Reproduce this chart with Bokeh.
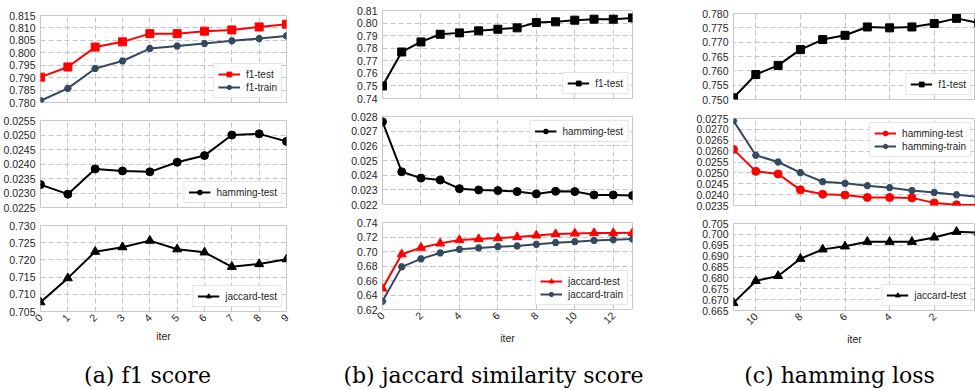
import math
from bokeh.plotting import figure
from bokeh.layouts import row, column
from bokeh.models import Range1d, FixedTicker, PrintfTickFormatter
from bokeh.embed import file_html
from bokeh.resources import INLINE
from bokeh.core.properties import value

# ---------------- data ----------------
iters_a = [0, 1, 2, 3, 4, 5, 6, 7, 8, 9]
f1_test_a = [0.7902, 0.7943, 0.8023, 0.8044, 0.8077, 0.8077, 0.8087, 0.8092, 0.8104, 0.8115]
f1_train_a = [0.7807, 0.7857, 0.7937, 0.7967, 0.8017, 0.8027, 0.8037, 0.8048, 0.8057, 0.8068]
ham_test_a = [0.02329, 0.02296, 0.02383, 0.02376, 0.02373, 0.02406, 0.02429, 0.02500, 0.02504, 0.02478]
jac_test_a = [0.7077, 0.7147, 0.7224, 0.7237, 0.7256, 0.7231, 0.7222, 0.7180, 0.7188, 0.7202]

iters_b = [0, 1, 2, 3, 4, 5, 6, 7, 8, 9, 10, 11, 12, 13]
f1_test_b = [0.7500, 0.7770, 0.7850, 0.7911, 0.7922, 0.7938, 0.7951, 0.7962, 0.8004, 0.8010, 0.8023, 0.8031, 0.8031, 0.8041]
ham_test_b = [0.02764, 0.02423, 0.02380, 0.02367, 0.02308, 0.02299, 0.02295, 0.02288, 0.02272, 0.02290, 0.02288, 0.02265, 0.02265, 0.02261]
jac_test_b = [0.6490, 0.6962, 0.7053, 0.7112, 0.7158, 0.7172, 0.7185, 0.7199, 0.7222, 0.7240, 0.7249, 0.7254, 0.7254, 0.7258]
jac_train_b = [0.6314, 0.6788, 0.6898, 0.6980, 0.7030, 0.7049, 0.7067, 0.7076, 0.7099, 0.7122, 0.7135, 0.7153, 0.7163, 0.7172]

iters_c = [11, 10, 9, 8, 7, 6, 5, 4, 3, 2, 1, 0]
f1_test_c = [0.7506, 0.7587, 0.7619, 0.7674, 0.7709, 0.7724, 0.7753, 0.7750, 0.7753, 0.7765, 0.7783, 0.7767]
ham_test_c = [0.02608, 0.02507, 0.02495, 0.02422, 0.02402, 0.02398, 0.02387, 0.02387, 0.02385, 0.02362, 0.02353, 0.02352]
ham_train_c = [0.02739, 0.02581, 0.02550, 0.02501, 0.02459, 0.02452, 0.02441, 0.02432, 0.02419, 0.02410, 0.02399, 0.02390]
jac_test_c = [0.6685, 0.6786, 0.6809, 0.6888, 0.6931, 0.6945, 0.6966, 0.6966, 0.6966, 0.6986, 0.7012, 0.7008]

# tick labels
yt_a1 = [0.780, 0.785, 0.790, 0.795, 0.800, 0.805, 0.810, 0.815]
yt_a2 = [0.0225, 0.0230, 0.0235, 0.0240, 0.0245, 0.0250, 0.0255]
yt_a3 = [0.705, 0.710, 0.715, 0.720, 0.725, 0.730]
yt_b1 = [0.74, 0.75, 0.76, 0.77, 0.78, 0.79, 0.80, 0.81]
yt_b2 = [0.022, 0.023, 0.024, 0.025, 0.026, 0.027, 0.028]
yt_b3 = [0.62, 0.64, 0.66, 0.68, 0.70, 0.72, 0.74]
yt_c1 = [0.750, 0.755, 0.760, 0.765, 0.770, 0.775, 0.780]
yt_c2 = [0.0235, 0.0240, 0.0245, 0.0250, 0.0255, 0.0260, 0.0265, 0.0270, 0.0275]
yt_c3 = [0.665, 0.670, 0.675, 0.680, 0.685, 0.690, 0.695, 0.700, 0.705]
xt_a = [0, 1, 2, 3, 4, 5, 6, 7, 8, 9]
xt_b = [0, 2, 4, 6, 8, 10, 12]
xt_c = [10, 8, 6, 4, 2, 0]
x_label = "iter"
captions = ["(a) f1 score", "(b) jaccard similarity score", "(c) hamming loss"]

# ---------------- style ----------------
RED = "#ff0000"
NAVY = "#34495e"
BLACK = "#000000"
FONT = "Liberation Sans"
TXT = "#262626"


def panel(x, series, xr, yticks, yfmt, xticks, loc, w, h, borders, bottom=False):
    l, r, t, b = borders
    p = figure(width=w, height=h, x_range=Range1d(*xr),
               y_range=Range1d(yticks[0], yticks[-1]),
               toolbar_location=None, output_backend="svg", title=None,
               x_axis_location="below" if bottom else None,
               min_border_left=l, min_border_right=r,
               min_border_top=t, min_border_bottom=b)
    p.background_fill_color = "white"
    p.border_fill_color = "white"
    p.outline_line_color = "#c8c8c8"
    p.outline_line_width = 1
    p.xgrid.ticker = FixedTicker(ticks=xticks)
    p.ygrid.ticker = FixedTicker(ticks=yticks)
    for g in (p.xgrid, p.ygrid):
        g.grid_line_color = "#c4c4c4"
        g.grid_line_dash = "5 3"
        g.grid_line_width = 1
    ya = p.yaxis[0]
    ya.ticker = FixedTicker(ticks=yticks)
    ya.formatter = PrintfTickFormatter(format=yfmt)
    ya.major_tick_out = 0
    ya.major_tick_in = 0
    ya.minor_tick_out = 0
    ya.minor_tick_in = 0
    ya.axis_line_color = None
    ya.major_label_standoff = 5
    ya.major_label_text_font = FONT
    ya.major_label_text_font_size = "10.5px"
    ya.major_label_text_color = TXT
    if bottom:
        xa = p.xaxis[0]
        xa.ticker = FixedTicker(ticks=xticks)
        xa.major_label_orientation = math.pi / 4
        xa.major_tick_out = 0
        xa.major_tick_in = 0
        xa.minor_tick_out = 0
        xa.minor_tick_in = 0
        xa.axis_line_color = None
        xa.major_label_standoff = 4
        xa.major_label_text_font = FONT
        xa.major_label_text_font_size = "10.5px"
        xa.major_label_text_color = TXT
        xa.axis_label = x_label
        xa.axis_label_text_font = FONT
        xa.axis_label_text_font_size = "10.5px"
        xa.axis_label_text_font_style = "normal"
        xa.axis_label_text_color = TXT
        xa.axis_label_standoff = 2
    for ys, label, color, marker, size in series:
        p.line(x, ys, line_color=color, line_width=2, legend_label=label)
        p.scatter(x, ys, marker=marker, size=size, fill_color=color,
                  line_color=color, legend_label=label)
    lg = p.legend[0]
    lg.location = loc
    lg.margin = 4
    lg.padding = 4
    lg.spacing = 1
    lg.label_text_font = FONT
    lg.label_text_font_size = "10px"
    lg.label_text_color = TXT
    lg.glyph_width = 22
    lg.glyph_height = 12
    lg.label_height = 12
    lg.label_standoff = 6
    lg.border_line_color = "#cccccc"
    lg.background_fill_color = "white"
    lg.background_fill_alpha = 1.0
    return p


# column (a)
a1 = panel(iters_a, [(f1_test_a, "f1-test", RED, "square", 8),
                     (f1_train_a, "f1-train", NAVY, "hex", 7)],
           (0, 9), yt_a1, "%.3f", xt_a, "bottom_right", 325, 111, (40, 39, 15, 9))
a2 = panel(iters_a, [(ham_test_a, "hamming-test", BLACK, "circle", 8)],
           (0, 9), yt_a2, "%.4f", xt_a, "bottom_right", 325, 105, (40, 39, 9, 9))
a3 = panel(iters_a, [(jac_test_a, "jaccard-test", BLACK, "triangle", 9)],
           (0, 9), yt_a3, "%.3f", xt_a, "bottom_right", 325, 135, (40, 39, 9, 40), bottom=True)

# column (b)
b1 = panel(iters_b, [(f1_test_b, "f1-test", BLACK, "square", 8)],
           (0, 13), yt_b1, "%.2f", xt_b, "bottom_right", 325, 106, (57, 18, 10, 8))
b2 = panel(iters_b, [(ham_test_b, "hamming-test", BLACK, "circle", 8)],
           (0, 13), yt_b2, "%.3f", xt_b, "top_right", 325, 107, (57, 18, 10, 9))
b3 = panel(iters_b, [(jac_test_b, "jaccard-test", RED, "triangle", 9),
                     (jac_train_b, "jaccard-train", NAVY, "hex", 7)],
           (0, 13), yt_b3, "%.2f", xt_b, "bottom_right", 325, 138, (57, 18, 9, 42), bottom=True)

# column (c)
c1 = panel(iters_c, [(f1_test_c, "f1-test", BLACK, "square", 8)],
           (11, 0.15), yt_c1, "%.3f", xt_c, "bottom_right", 325, 108, (83, 0, 13, 9))
c2 = panel(iters_c, [(ham_test_c, "hamming-test", RED, "circle", 8),
                     (ham_train_c, "hamming-train", NAVY, "hex", 7)],
           (11, 0.15), yt_c2, "%.4f", xt_c, "top_right", 325, 106, (83, 0, 10, 9))
c3 = panel(iters_c, [(jac_test_c, "jaccard-test", BLACK, "triangle", 9)],
           (11, 0.15), yt_c3, "%.3f", xt_c, "bottom_right", 325, 137, (83, 0, 9, 41), bottom=True)

# captions
cap = figure(width=975, height=39, x_range=Range1d(0, 975), y_range=Range1d(0, 39),
             toolbar_location=None, output_backend="svg", title=None,
             x_axis_location=None, y_axis_location=None, min_border=0)
cap.outline_line_color = None
cap.grid.visible = False
cap.background_fill_color = "white"
cap.border_fill_color = "white"
cap.text(x=[147, 493, 839], y=[15, 15, 15], text=captions,
         text_font=value("DejaVu Serif"), text_font_size="22px",
         text_align="center", text_baseline="middle", text_color=BLACK)

layout = column(row(column(a1, a2, a3), column(b1, b2, b3), column(c1, c2, c3)), cap)

open("out.html", "w").write(file_html(layout, INLINE))
